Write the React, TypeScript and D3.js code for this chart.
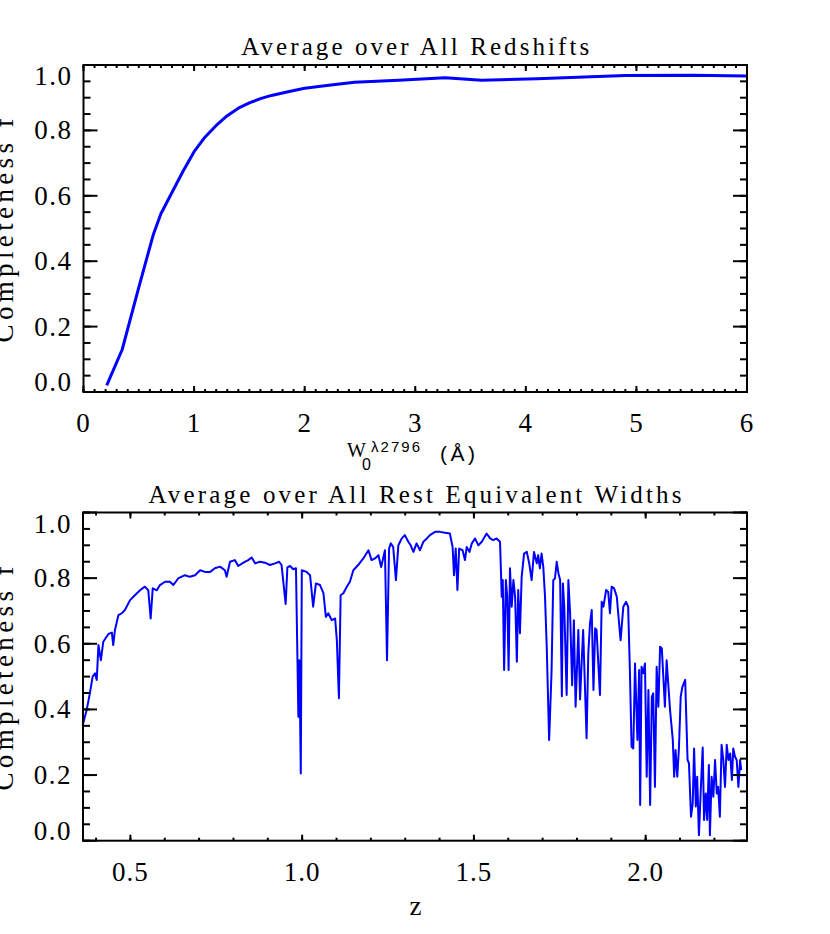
import { useEffect, useRef } from 'react'
import * as d3 from 'd3'

// top panel: completeness vs rest equivalent width
const eqWidth = [0.21, 0.35, 0.5, 0.63, 0.7, 0.8, 0.9, 1.0, 1.1, 1.2, 1.3, 1.4, 1.5, 1.6, 1.7, 1.85, 2.0, 2.2, 2.45, 2.85, 3.27, 3.6, 4.1, 4.9, 5.5, 6.0]
const complW = [0.02, 0.13, 0.32, 0.48, 0.545, 0.61, 0.675, 0.735, 0.78, 0.815, 0.845, 0.868, 0.884, 0.897, 0.907, 0.918, 0.929, 0.937, 0.947, 0.953, 0.961, 0.953, 0.958, 0.968, 0.969, 0.966]

// bottom panel: completeness vs redshift
const redshift = [
  0.361, 0.373, 0.382, 0.390, 0.397, 0.402, 0.407, 0.414, 0.421, 0.436, 0.446, 0.450, 0.455, 0.465, 0.475, 0.484,
  0.499, 0.513, 0.528, 0.542, 0.552, 0.559, 0.565, 0.577, 0.586, 0.601, 0.615, 0.625, 0.639, 0.659, 0.673, 0.688,
  0.703, 0.717, 0.732, 0.746, 0.761, 0.775, 0.780, 0.790, 0.804, 0.814, 0.829, 0.843, 0.853, 0.863, 0.877, 0.892,
  0.906, 0.921, 0.933, 0.940, 0.952, 0.957, 0.965, 0.974, 0.982, 0.989, 0.992, 0.996, 0.999, 1.013, 1.023, 1.032,
  1.040, 1.052, 1.062, 1.069, 1.076, 1.086, 1.096, 1.101, 1.107, 1.112, 1.120, 1.130, 1.139, 1.149, 1.163, 1.178,
  1.193, 1.202, 1.212, 1.222, 1.230, 1.241, 1.247, 1.253, 1.258, 1.265, 1.273, 1.280, 1.290, 1.299, 1.309, 1.316,
  1.324, 1.333, 1.343, 1.353, 1.363, 1.372, 1.387, 1.401, 1.416, 1.430, 1.438, 1.442, 1.447, 1.452, 1.457, 1.467,
  1.474, 1.479, 1.487, 1.494, 1.503, 1.513, 1.523, 1.537, 1.547, 1.556, 1.566, 1.576, 1.581, 1.584, 1.588, 1.593,
  1.597, 1.601, 1.605, 1.610, 1.615, 1.620, 1.625, 1.629, 1.634, 1.639, 1.646, 1.654, 1.661, 1.668, 1.675, 1.683,
  1.687, 1.692, 1.697, 1.702, 1.707, 1.712, 1.719, 1.726, 1.731, 1.736, 1.741, 1.746, 1.751, 1.756, 1.759, 1.763,
  1.770, 1.775, 1.780, 1.786, 1.791, 1.796, 1.804, 1.809, 1.814, 1.818, 1.828, 1.833, 1.838, 1.843, 1.848, 1.853,
  1.857, 1.867, 1.872, 1.877, 1.885, 1.891, 1.896, 1.901, 1.908, 1.916, 1.920, 1.927, 1.935, 1.943, 1.949, 1.954,
  1.959, 1.964, 1.969, 1.976, 1.981, 1.984, 1.988, 1.993, 1.998, 2.003, 2.008, 2.013, 2.018, 2.022, 2.027, 2.032,
  2.037, 2.042, 2.047, 2.056, 2.061, 2.071, 2.079, 2.083, 2.087, 2.092, 2.097, 2.102, 2.107, 2.115, 2.122, 2.126,
  2.132, 2.137, 2.141, 2.146, 2.150, 2.155, 2.160, 2.166, 2.170, 2.175, 2.179, 2.184, 2.187, 2.192, 2.197, 2.202,
  2.207, 2.211, 2.216, 2.221, 2.226, 2.231, 2.236, 2.241, 2.246, 2.251, 2.255, 2.260, 2.265, 2.270, 2.275, 2.278,
]
const complZ = [
  0.352, 0.40, 0.449, 0.50, 0.51, 0.49, 0.596, 0.55, 0.606, 0.63, 0.634, 0.596, 0.642, 0.687, 0.693, 0.703,
  0.733, 0.748, 0.763, 0.774, 0.763, 0.677, 0.769, 0.763, 0.779, 0.789, 0.789, 0.779, 0.799, 0.809, 0.804, 0.809,
  0.824, 0.819, 0.819, 0.83, 0.835, 0.824, 0.804, 0.85, 0.855, 0.837, 0.847, 0.855, 0.863, 0.845, 0.85, 0.847,
  0.84, 0.845, 0.85, 0.84, 0.721, 0.833, 0.837, 0.827, 0.83, 0.378, 0.55, 0.205, 0.824, 0.819, 0.809, 0.713,
  0.784, 0.779, 0.754, 0.682, 0.693, 0.672, 0.677, 0.611, 0.434, 0.748, 0.754, 0.774, 0.789, 0.824, 0.84, 0.86,
  0.885, 0.855, 0.86, 0.87, 0.834, 0.885, 0.55, 0.89, 0.906, 0.895, 0.794, 0.9, 0.921, 0.931, 0.911, 0.9,
  0.88, 0.906, 0.885, 0.911, 0.921, 0.931, 0.941, 0.941, 0.938, 0.936, 0.895, 0.809, 0.89, 0.764, 0.89, 0.885,
  0.855, 0.895, 0.88, 0.906, 0.921, 0.9, 0.911, 0.936, 0.921, 0.916, 0.921, 0.911, 0.743, 0.794, 0.52, 0.794,
  0.743, 0.52, 0.83, 0.713, 0.794, 0.743, 0.545, 0.764, 0.632, 0.804, 0.875, 0.88, 0.845, 0.794, 0.88, 0.845,
  0.87, 0.83, 0.875, 0.834, 0.743, 0.591, 0.307, 0.515, 0.794, 0.799, 0.85, 0.815, 0.794, 0.44, 0.784, 0.713,
  0.444, 0.794, 0.693, 0.474, 0.672, 0.408, 0.642, 0.43, 0.55, 0.642, 0.312, 0.571, 0.662, 0.703, 0.459, 0.647,
  0.642, 0.444, 0.728, 0.713, 0.764, 0.758, 0.693, 0.774, 0.769, 0.743, 0.693, 0.611, 0.713, 0.728, 0.713, 0.52,
  0.286, 0.281, 0.54, 0.307, 0.52, 0.109, 0.53, 0.51, 0.54, 0.195, 0.459, 0.109, 0.439, 0.449, 0.164, 0.53,
  0.408, 0.591, 0.586, 0.408, 0.55, 0.398, 0.307, 0.195, 0.276, 0.195, 0.286, 0.439, 0.469, 0.49, 0.246, 0.236,
  0.073, 0.114, 0.281, 0.104, 0.195, 0.017, 0.144, 0.284, 0.063, 0.144, 0.063, 0.231, 0.017, 0.195, 0.134, 0.246,
  0.144, 0.164, 0.073, 0.292, 0.246, 0.164, 0.292, 0.246, 0.266, 0.185, 0.281, 0.256, 0.246, 0.164, 0.246, 0.215,
]

const wTicks = [0, 1, 2, 3, 4, 5, 6]
const zTicks = [0.5, 1.0, 1.5, 2.0]
const fTicks = [0, 0.2, 0.4, 0.6, 0.8, 1.0]

const SERIF = '"Liberation Serif", "Times New Roman", serif'
const SANS = '"Liberation Sans", Arial, sans-serif'

function drawPanel(svg, o) {
  const g = svg.append('g')
  const { x, y, box } = o

  // data line
  g.append('path')
    .datum(o.xs.map((d, i) => [d, o.ys[i]]))
    .attr('fill', 'none')
    .attr('stroke', '#0000ff')
    .attr('stroke-width', o.lineWidth)
    .attr('stroke-linejoin', 'round')
    .attr('d', d3.line().curve(o.curve || d3.curveLinear).x(d => x(d[0])).y(d => y(d[1])))

  const tick = (x1, y1, x2, y2) => g.append('line')
    .attr('x1', x1).attr('y1', y1).attr('x2', x2).attr('y2', y2)
    .attr('stroke', '#000').attr('stroke-width', 2)

  // x ticks bottom and top
  o.xMinor.forEach(v => {
    tick(x(v), box.bottom, x(v), box.bottom - 3)
    tick(x(v), box.top, x(v), box.top + 3)
  })
  o.xMajor.forEach(v => {
    tick(x(v), box.bottom, x(v), box.bottom - 6)
    tick(x(v), box.top, x(v), box.top + 6)
  })
  // y ticks left and right
  d3.range(0, 1.0001, 0.05).forEach(v => {
    tick(box.left, y(v), box.left + 7, y(v))
    tick(box.right, y(v), box.right - 7, y(v))
  })
  fTicks.forEach(v => {
    tick(box.left, y(v), box.left + 14, y(v))
    tick(box.right, y(v), box.right - 14, y(v))
  })

  g.append('rect')
    .attr('x', box.left).attr('y', box.top)
    .attr('width', box.right - box.left).attr('height', box.bottom - box.top)
    .attr('fill', 'none').attr('stroke', '#000').attr('stroke-width', 2)

  // tick labels
  g.selectAll('.ylab').data(fTicks).enter().append('text')
    .attr('x', box.left - 11)
    .attr('y', d => Math.min(Math.max(y(d), box.top + 11), box.bottom - 10) + 9)
    .attr('text-anchor', 'end')
    .attr('font-family', SERIF).attr('font-size', 27)
    .attr('letter-spacing', 1.5)
    .text(d => d.toFixed(1))

  g.selectAll('.xlab').data(o.xMajor).enter().append('text')
    .attr('x', d => x(d))
    .attr('y', box.bottom + 40)
    .attr('text-anchor', 'middle')
    .attr('font-family', SERIF).attr('font-size', 27)
    .attr('letter-spacing', 1)
    .text(o.xFmt)

  g.append('text')
    .attr('x', (box.left + box.right) / 2)
    .attr('y', box.top + o.titleDy)
    .attr('text-anchor', 'middle')
    .attr('font-family', SERIF).attr('font-size', 25)
    .attr('textLength', o.titleLen).attr('lengthAdjust', 'spacing')
    .text(o.title)

  g.append('text')
    .attr('transform', `translate(13,${(box.top + box.bottom) / 2 + 2}) rotate(-90)`)
    .attr('text-anchor', 'middle')
    .attr('font-family', SERIF).attr('font-size', 27)
    .attr('textLength', 224).attr('lengthAdjust', 'spacing')
    .text('Completeness f')

  return g
}

export default function App() {
  const ref = useRef(null)

  useEffect(() => {
    const svg = d3.select(ref.current)
    svg.selectAll('*').remove()

    const boxTop = { left: 83.5, right: 747, top: 65, bottom: 392 }
    const xW = d3.scaleLinear().domain([0, 6]).range([boxTop.left, boxTop.right])
    const yTop = d3.scaleLinear().domain([0, 1]).range([boxTop.bottom, boxTop.top])
    drawPanel(svg, {
      x: xW, y: yTop, box: boxTop,
      xs: eqWidth, ys: complW, lineWidth: 3,
      xMajor: wTicks, xMinor: d3.range(0, 6.0001, 0.1),
      xFmt: d => String(d),
      title: 'Average over All Redshifts', titleLen: 348, titleDy: -10,
    })

    // x title of top panel
    const lab = svg.append('g')
    lab.append('text').attr('x', 347).attr('y', 457)
      .attr('font-family', SERIF).attr('font-size', 20).text('W')
    lab.append('text').attr('x', 362).attr('y', 470)
      .attr('font-family', SANS).attr('font-size', 16).text('0')
    lab.append('text').attr('x', 371).attr('y', 452)
      .attr('font-family', SANS).attr('font-size', 15)
      .attr('textLength', 49).attr('lengthAdjust', 'spacing').text('λ2796')
    lab.append('text').attr('x', 440).attr('y', 461)
      .attr('font-family', SANS).attr('font-size', 21)
      .attr('textLength', 35).attr('lengthAdjust', 'spacing').text('(Å)')

    const boxBot = { left: 83, right: 747, top: 512.5, bottom: 840.7 }
    const xZ = d3.scaleLinear().domain([0.362, 2.295]).range([boxBot.left, boxBot.right])
    const yBot = d3.scaleLinear().domain([0, 1]).range([boxBot.bottom, boxBot.top])
    drawPanel(svg, {
      x: xZ, y: yBot, box: boxBot,
      xs: redshift, ys: complZ, lineWidth: 2,
      xMajor: zTicks, xMinor: d3.range(0.4, 2.2501, 0.1),
      xFmt: d => d.toFixed(1),
      title: 'Average over All Rest Equivalent Widths', titleLen: 533, titleDy: -9.5,
    })

    svg.append('text')
      .attr('x', xZ(1.33)).attr('y', 915)
      .attr('text-anchor', 'middle')
      .attr('font-family', SERIF).attr('font-size', 27)
      .text('z')
  }, [])

  return (
    <svg ref={ref} width={830} height={934}
      style={{ position: 'absolute', left: 0, top: 0, background: '#fff' }} />
  )
}
